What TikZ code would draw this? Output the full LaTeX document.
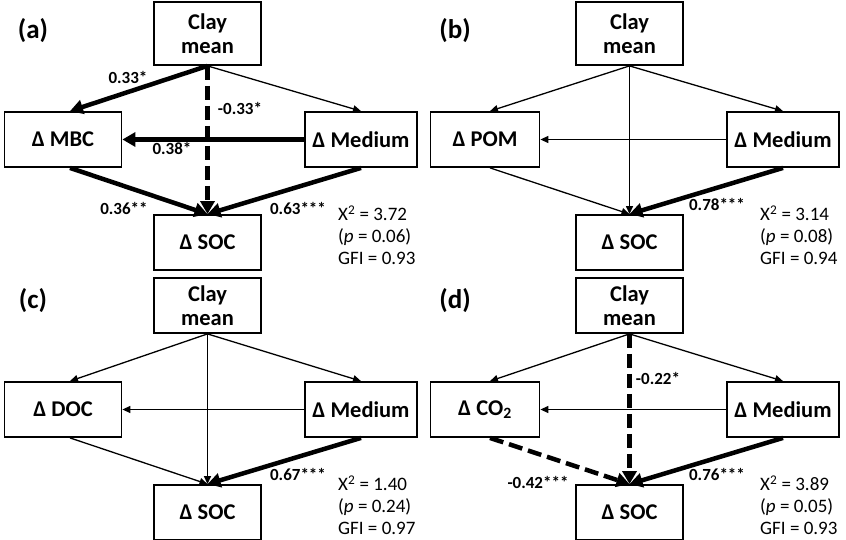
\documentclass[tikz,border=0pt]{standalone}
\usepackage{fontspec}
\setmainfont{Carlito}
\usetikzlibrary{arrows.meta}
\tikzset{
  varbox/.style={draw,line width=1.8pt,align=center,inner sep=0pt,minimum height=55,
    font=\bfseries\fontsize{22.5}{24.5}\selectfont},
  weak/.style={line width=1.3pt,-{Triangle[length=8pt,width=7pt]}},
  strong/.style={line width=4.5pt,-{Triangle[length=13pt,width=14pt]}},
  neg/.style={strong,dash pattern=on 14pt off 6pt},
  coef/.style={inner sep=0pt,font=\bfseries\fontsize{17}{17}\selectfont},
  stats/.style={inner sep=0pt,anchor=west,align=left,font=\fontsize{19}{22}\selectfont},
  panel/.style={inner sep=0pt,font=\bfseries\fontsize{27}{27}\selectfont}
}
\begin{document}
\begin{tikzpicture}[x=1pt,y=-1pt]
\useasboundingbox (0,0) rectangle (846,540);
% boxes and fit indices of the four models
\foreach \p/\dx/\dy/\midtxt/\midw/\clayy/\clayh/\chisq/\pval/\gfi in
  {a/0/0/MBC/117/33.5/63/3.72/0.06/0.93,
   b/422/0/POM/109/33.5/63/3.14/0.08/0.94,
   c/0/270/DOC/117/35.5/55/1.40/0.24/0.97,
   d/422/270/CO\textsubscript{2}/109/35.5/55/3.89/0.05/0.93} {
  \begin{scope}[shift={(\dx,\dy)}]
    \node[panel] (lab\p) at (33,31) {(\p)};
    \node[varbox,minimum width=107,minimum height=\clayh] (clay\p) at (207.5,\clayy) {Clay\\mean};
    \node[varbox,minimum width=\midw] (mid\p) at (63,139.5) {Δ \midtxt};
    \node[varbox,minimum width=112] (med\p) at (361,139.5) {Δ Medium};
    \node[varbox,minimum width=107] (soc\p) at (207.5,242.5) {Δ SOC};
    \node[stats] (fit\p) at (338,235) {X\textsuperscript{2} = \chisq\\(\textit{p}  = \pval)\\GFI = \gfi};
  \end{scope}
}
% (a) MBC
\draw[strong] (claya.south) -- ([xshift=7pt]mida.north);
\draw[weak] (claya.south) -- (meda.north);
\draw[neg] (claya.south) -- (soca.north);
\draw[strong] (meda.west) -- (mida.east);
\draw[strong] ([xshift=7pt]mida.south) -- (soca.north);
\draw[strong] (meda.south) -- (soca.north);
\node[coef] (ca1) at (128,77) {0.33*};
\node[coef] (ca2) at (240,108) {-0.33*};
\node[coef] (ca3) at (172,148) {0.38*};
\node[coef] (ca4) at (124,208) {0.36**};
\node[coef] (ca5) at (298,208) {0.63***};
% (b) POM
\draw[weak] (clayb.south) -- ([xshift=5pt]midb.north);
\draw[weak] (clayb.south) -- (medb.north);
\draw[weak] (clayb.south) -- (socb.north);
\draw[weak] (medb.west) -- (midb.east);
\draw[weak] ([xshift=5pt]midb.south) -- (socb.north);
\draw[strong] (medb.south) -- (socb.north);
\node[coef] (cb1) at (717,204) {0.78***};
% (c) DOC
\draw[weak] (clayc.south) -- ([xshift=7pt]midc.north);
\draw[weak] (clayc.south) -- (medc.north);
\draw[weak] (clayc.south) -- (socc.north);
\draw[weak] (medc.west) -- (midc.east);
\draw[weak] ([xshift=7pt]midc.south) -- (socc.north);
\draw[strong] (medc.south) -- (socc.north);
\node[coef] (cc1) at (298,474) {0.67***};
% (d) CO2
\draw[weak] (clayd.south) -- ([xshift=5pt]midd.north);
\draw[weak] (clayd.south) -- (medd.north);
\draw[neg] (clayd.south) -- (socd.north);
\draw[weak] (medd.west) -- (midd.east);
\draw[neg] ([xshift=5pt]midd.south) -- (socd.north);
\draw[strong] (medd.south) -- (socd.north);
\node[coef] (cd1) at (658,378) {-0.22*};
\node[coef] (cd2) at (538,482) {-0.42***};
\node[coef] (cd3) at (717,474) {0.76***};
\end{tikzpicture}
\end{document}
